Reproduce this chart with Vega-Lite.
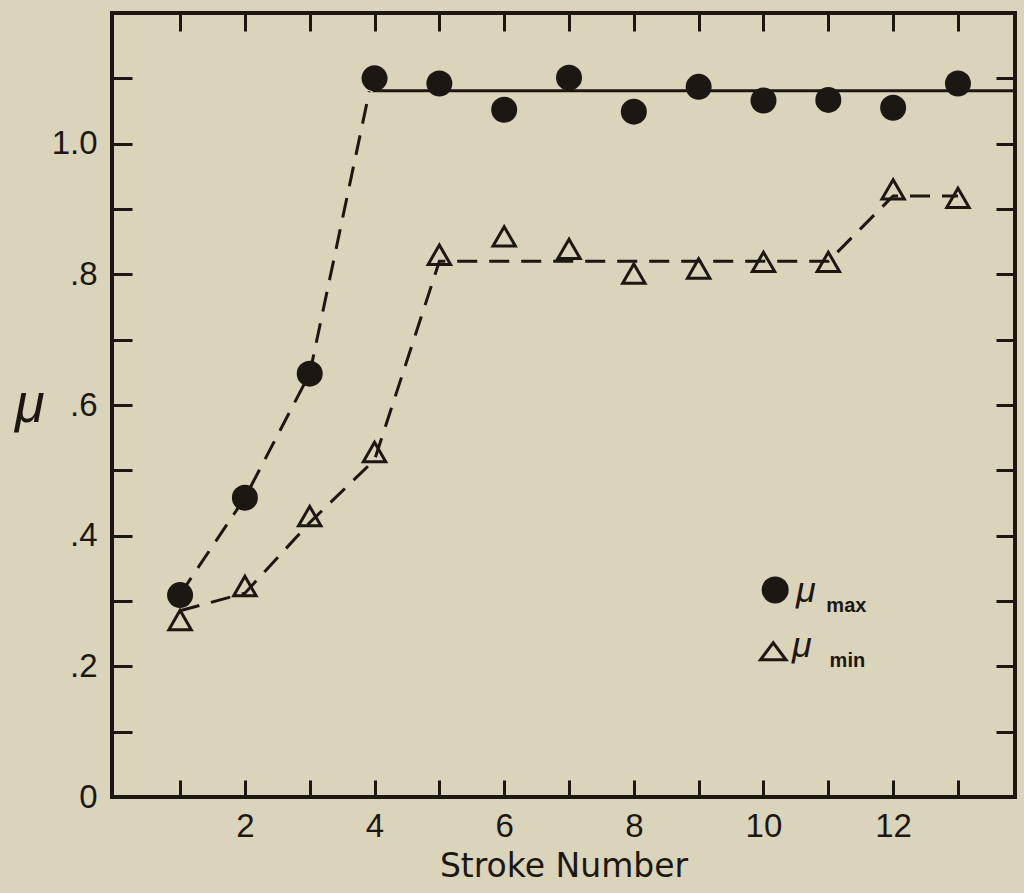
{
  "$schema": "https://vega.github.io/schema/vega-lite/v6.json",
  "width": 903,
  "height": 784,
  "autosize": {"type": "none"},
  "padding": {"left": 112, "top": 13, "right": 9, "bottom": 96},
  "background": "#dad4ba",
  "config": {
    "view": {"stroke": "#1c1712", "strokeWidth": 4, "fill": null},
    "axis": {
      "domain": false,
      "grid": false,
      "tickColor": "#1c1712",
      "tickWidth": 3,
      "labelColor": "#1c1712",
      "titleColor": "#1c1712",
      "labelFont": "Liberation Sans",
      "titleFont": "DejaVu Sans",
      "labelFontSize": 33,
      "titleFontSize": 33,
      "titleFontWeight": "normal"
    }
  },
  "datasets": {
    "points": [
      {"stroke": 1, "mu_max": 0.309, "mu_min": 0.271},
      {"stroke": 2, "mu_max": 0.458, "mu_min": 0.323},
      {"stroke": 3, "mu_max": 0.648, "mu_min": 0.430},
      {"stroke": 4, "mu_max": 1.100, "mu_min": 0.528},
      {"stroke": 5, "mu_max": 1.092, "mu_min": 0.830},
      {"stroke": 6, "mu_max": 1.052, "mu_min": 0.858},
      {"stroke": 7, "mu_max": 1.101, "mu_min": 0.839},
      {"stroke": 8, "mu_max": 1.049, "mu_min": 0.801},
      {"stroke": 9, "mu_max": 1.087, "mu_min": 0.809},
      {"stroke": 10, "mu_max": 1.066, "mu_min": 0.819},
      {"stroke": 11, "mu_max": 1.067, "mu_min": 0.819},
      {"stroke": 12, "mu_max": 1.055, "mu_min": 0.930},
      {"stroke": 13, "mu_max": 1.092, "mu_min": 0.917}
    ],
    "dashed": [
      {"series": "max", "stroke": 1, "mu": 0.31},
      {"series": "max", "stroke": 2, "mu": 0.458},
      {"series": "max", "stroke": 3, "mu": 0.648},
      {"series": "max", "stroke": 3.92, "mu": 1.08},
      {"series": "min", "stroke": 1, "mu": 0.285},
      {"series": "min", "stroke": 2, "mu": 0.312},
      {"series": "min", "stroke": 3, "mu": 0.42},
      {"series": "min", "stroke": 4, "mu": 0.516},
      {"series": "min", "stroke": 5, "mu": 0.82},
      {"series": "min", "stroke": 11, "mu": 0.82},
      {"series": "min", "stroke": 12, "mu": 0.92},
      {"series": "min", "stroke": 13, "mu": 0.92}
    ],
    "solid": [
      {"stroke": 3.97, "mu": 1.081},
      {"stroke": 13.88, "mu": 1.081}
    ],
    "legendSymbols": [
      {"stroke": 10.18, "mu": 0.317, "kind": "max"},
      {"stroke": 10.15, "mu": 0.222, "kind": "min"}
    ],
    "legendMu": [
      {"stroke": 10.5, "mu": 0.299, "label": "μ"},
      {"stroke": 10.44, "mu": 0.215, "label": "μ"}
    ],
    "legendSub": [
      {"stroke": 10.97, "mu": 0.283, "label": "max"},
      {"stroke": 11.02, "mu": 0.199, "label": "min"}
    ]
  },
  "layer": [
    {
      "data": {"name": "solid"},
      "mark": {"type": "line", "color": "#1c1712", "strokeWidth": 3},
      "encoding": {
        "x": {
          "field": "stroke", "type": "quantitative",
          "scale": {"domain": [-0.05, 13.88], "nice": false, "zero": false},
          "axis": {
            "orient": "bottom",
            "values": [1,2,3,4,5,6,7,8,9,10,11,12,13],
            "tickSize": -17,
            "labelPadding": 30,
            "labelExpr": "datum.value % 2 == 0 ? datum.label : ''",
            "labelFlush": false,
            "title": "Stroke Number",
            "titlePadding": 7
          }
        },
        "y": {
          "field": "mu", "type": "quantitative",
          "scale": {"domain": [0, 1.2], "nice": false, "zero": true},
          "axis": {
            "orient": "left",
            "values": [0, 0.1, 0.2, 0.3, 0.4, 0.5, 0.6, 0.7, 0.8, 0.9, 1.0, 1.1],
            "tickSize": -20,
            "labelPadding": 35,
            "labelFlush": false,
            "labelExpr": "datum.value == 0 ? '0' : (round(datum.value * 10) % 2 == 1 ? '' : (datum.value >= 1 ? format(datum.value, '.1f') : replace(format(datum.value, '.1f'), '0.', '.')))",
            "title": "μ",
            "titleFont": "Liberation Sans",
            "titleAngle": 0,
            "titleFontSize": 54,
            "titleFontStyle": "italic",
            "titleAlign": "right",
            "titleBaseline": "middle",
            "titlePadding": 7
          }
        }
      }
    },
    {
      "data": {"name": "dashed"},
      "mark": {"type": "line", "color": "#1c1712", "strokeWidth": 3, "strokeDash": [20, 12]},
      "encoding": {
        "x": {"field": "stroke", "type": "quantitative", "axis": null},
        "y": {"field": "mu", "type": "quantitative", "axis": null},
        "detail": {"field": "series"}
      }
    },
    {
      "data": {"name": "points"},
      "mark": {"type": "point", "shape": "circle", "filled": true, "color": "#1c1712", "size": 676, "opacity": 1},
      "encoding": {
        "x": {
          "field": "stroke", "type": "quantitative",
          "axis": {"orient": "top", "values": [1,2,3,4,5,6,7,8,9,10,11,12,13], "tickSize": -18, "labels": false, "title": null}
        },
        "y": {
          "field": "mu_max", "type": "quantitative",
          "axis": {"orient": "right", "values": [0.1, 0.2, 0.3, 0.4, 0.5, 0.6, 0.7, 0.8, 0.9, 1.0, 1.1], "tickSize": -19, "labels": false, "title": null}
        }
      }
    },
    {
      "data": {"name": "points"},
      "mark": {"type": "point", "shape": "triangle-up", "filled": false, "color": "#1c1712", "strokeWidth": 3, "size": 500, "opacity": 1},
      "encoding": {
        "x": {"field": "stroke", "type": "quantitative", "axis": null},
        "y": {"field": "mu_min", "type": "quantitative", "axis": null}
      }
    },
    {
      "data": {"name": "legendSymbols"},
      "transform": [{"filter": "datum.kind == 'max'"}],
      "mark": {"type": "point", "shape": "circle", "filled": true, "color": "#1c1712", "size": 729, "opacity": 1},
      "encoding": {
        "x": {"field": "stroke", "type": "quantitative", "axis": null},
        "y": {"field": "mu", "type": "quantitative", "axis": null}
      }
    },
    {
      "data": {"name": "legendSymbols"},
      "transform": [{"filter": "datum.kind == 'min'"}],
      "mark": {"type": "point", "shape": "M-1,0.62L0,-0.72L1,0.62Z", "filled": false, "color": "#1c1712", "strokeWidth": 3, "size": 650, "opacity": 1},
      "encoding": {
        "x": {"field": "stroke", "type": "quantitative", "axis": null},
        "y": {"field": "mu", "type": "quantitative", "axis": null}
      }
    },
    {
      "data": {"name": "legendMu"},
      "mark": {"type": "text", "font": "Liberation Sans", "fontSize": 36, "fontStyle": "italic", "align": "left", "baseline": "alphabetic", "color": "#1c1712"},
      "encoding": {
        "x": {"field": "stroke", "type": "quantitative", "axis": null},
        "y": {"field": "mu", "type": "quantitative", "axis": null},
        "text": {"field": "label"}
      }
    },
    {
      "data": {"name": "legendSub"},
      "mark": {"type": "text", "font": "Liberation Sans", "fontSize": 20, "fontWeight": "bold", "align": "left", "baseline": "alphabetic", "color": "#1c1712"},
      "encoding": {
        "x": {"field": "stroke", "type": "quantitative", "axis": null},
        "y": {"field": "mu", "type": "quantitative", "axis": null},
        "text": {"field": "label"}
      }
    }
  ],
  "resolve": {"axis": {"x": "independent", "y": "independent"}}
}
